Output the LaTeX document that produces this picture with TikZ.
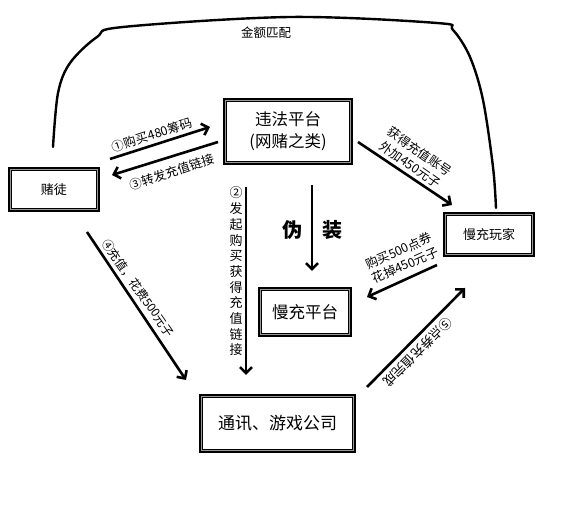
\documentclass[tikz,border=0pt]{standalone}
\usepackage{fontspec}
\setmainfont{Noto Sans CJK SC}
\usetikzlibrary{arrows.meta}
\begin{document}
\begin{tikzpicture}[x=1pt,y=-1pt,
  box/.style={draw, line width=3.5pt, inner sep=0pt, align=center},
  arr/.style={line width=2.6pt, -{Straight Barb[length=6pt,width=12pt]}},
  lbl/.style={inner sep=0pt, align=center}]
\useasboundingbox (0,0) rectangle (579,510);
\fill[white] (0,0) rectangle (579,510);

% boxes
\node[box, minimum width=88.5pt, minimum height=41.5pt, font=\fontsize{13pt}{15pt}\selectfont] (gambler) at (54,189.5) {赌徒};
\node[box, minimum width=126.5pt, minimum height=63.5pt, font=\fontsize{16.5pt}{22pt}\selectfont] (platform) at (288,131.5) {违法平台\\(网赌之类)};
\node[box, minimum width=88.5pt, minimum height=41.5pt, font=\fontsize{13pt}{15pt}\selectfont] (player) at (489,234.5) {慢充玩家};
\node[box, minimum width=90.5pt, minimum height=46.5pt, font=\fontsize{16.5pt}{18pt}\selectfont] (slow) at (305,312) {慢充平台};
\node[box, minimum width=153.5pt, minimum height=55.5pt, font=\fontsize{17pt}{19pt}\selectfont] (company) at (277.5,423.5) {通讯、游戏公司};

\foreach \n in {gambler,platform,player,slow,company}{
  \draw[gray!80, line width=1.3pt] ([shift={(2.4pt,-2.4pt)}]\n.north west) rectangle ([shift={(-2.4pt,2.4pt)}]\n.south east);
  \draw[line width=0.9pt] ([shift={(3.5pt,-3.5pt)}]\n.north west) rectangle ([shift={(-3.5pt,3.5pt)}]\n.south east);
}

% connector end points
\coordinate (a1s) at (110,159); \coordinate (a1e) at (210,127);
\coordinate (a3s) at (218,142); \coordinate (a3e) at (112,175);
\coordinate (a2s) at (246,187); \coordinate (a2e) at (246,375);
\coordinate (fzs) at (312,185); \coordinate (fze) at (312,271);
\coordinate (a4s) at (87,232);  \coordinate (a4e) at (186,380);
\coordinate (bps) at (358,142); \coordinate (bpe) at (452,205);
\coordinate (pds) at (437,265); \coordinate (pde) at (367,297);
\coordinate (a5s) at (367,387); \coordinate (a5e) at (465,288);
\coordinate (ga) at (53,147);   \coordinate (gc) at (496,208);

% arrows
\draw[arr] (a1s) -- (a1e);
\draw[arr] (a3s) -- (a3e);
\draw[arr] (a2s) -- (a2e);
\draw[arr] (fzs) -- (fze);
\draw[arr] (a4s) -- (a4e);
\draw[arr] (bps) -- (bpe);
\draw[arr] (pds) -- (pde);
\draw[arr] (a5s) -- (a5e);

% amount-matching curve
\draw[line width=2.4pt, line cap=round] plot[smooth, tension=0.55] coordinates {(ga) (58,93) (70,63) (97,37) (123,27) (290,17) (437,23) (453,30) (470,57) (483,100) (493,167) (gc)};

% labels
\node[lbl, font=\fontsize{12.5pt}{14pt}\selectfont] (lm) at (266,33) {金额匹配};
\node[lbl, rotate=18, font=\fontsize{12.5pt}{14pt}\selectfont] (l1) at (152,135) {①购买480筹码};
\node[lbl, rotate=18, font=\fontsize{12.5pt}{14pt}\selectfont] (l3) at (172,172) {③转发充值链接};
\node[lbl, font=\fontsize{13pt}{15.7pt}\selectfont] (l2) at (236,271.5) {②\\发\\起\\购\\买\\获\\得\\充\\值\\链\\接};
\node[lbl, rotate=-55, font=\fontsize{12pt}{14pt}\selectfont] (l4) at (138,288) {④充值，花费500元子};
\node[lbl, rotate=-35, font=\fontsize{12.5pt}{16pt}\selectfont] (lb) at (415,158) {获得充值账号\\外加450元子};
\node[lbl, rotate=24, font=\fontsize{12.5pt}{15.5pt}\selectfont] (lp) at (402,258) {购买500点券\\花掉450元子};
\node[lbl, rotate=225, font=\fontsize{13pt}{15pt}\selectfont] (l5) at (418,352) {⑤点券充值完成};
\node[lbl, font=\bfseries\fontsize{20pt}{22pt}\selectfont] (w1) at (292,230) {伪};
\node[lbl, font=\bfseries\fontsize{20pt}{22pt}\selectfont] (w2) at (332,230) {装};
\end{tikzpicture}
\end{document}
